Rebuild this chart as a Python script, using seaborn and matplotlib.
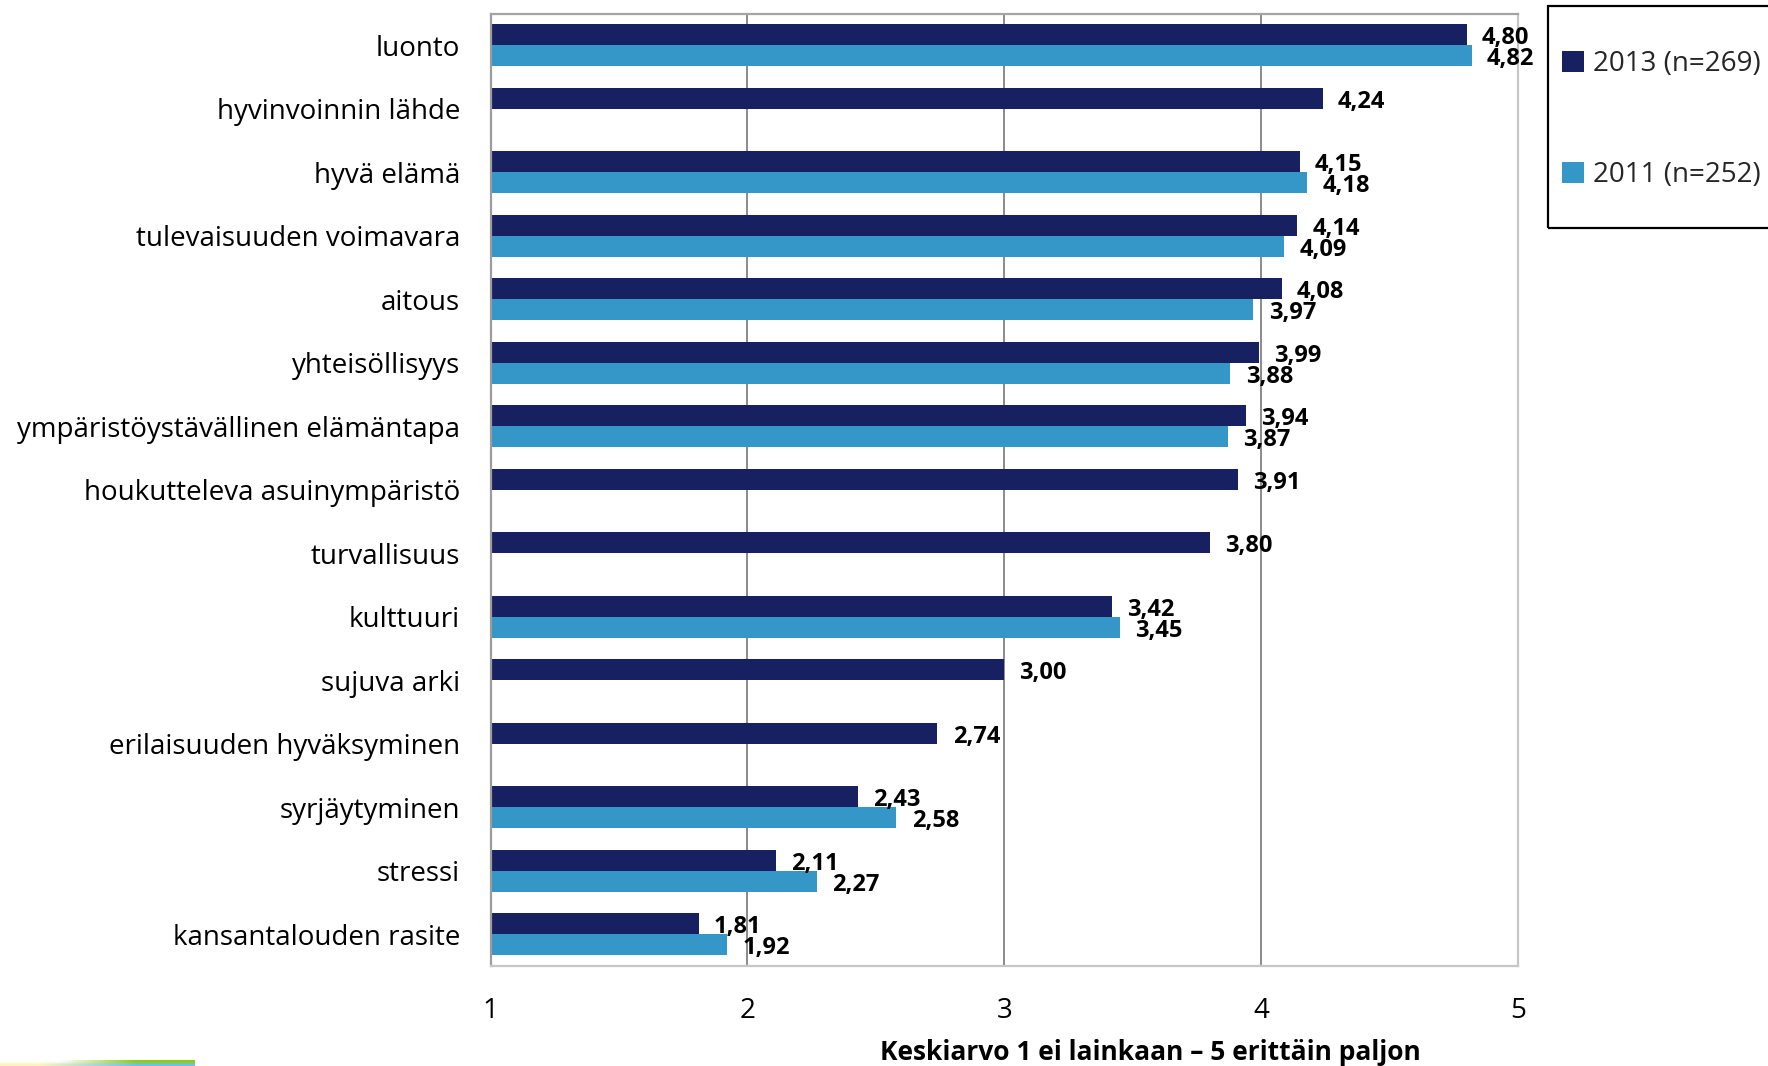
import numpy as np
import pandas as pd
import seaborn as sns
import matplotlib.pyplot as plt
from matplotlib.patches import Rectangle

# --- data -----------------------------------------------------------------
categories = [
    "luonto",
    "hyvinvoinnin lähde",
    "hyvä elämä",
    "tulevaisuuden voimavara",
    "aitous",
    "yhteisöllisyys",
    "ympäristöystävällinen elämäntapa",
    "houkutteleva asuinympäristö",
    "turvallisuus",
    "kulttuuri",
    "sujuva arki",
    "erilaisuuden hyväksyminen",
    "syrjäytyminen",
    "stressi",
    "kansantalouden rasite",
]
values_2013 = [4.80, 4.24, 4.15, 4.14, 4.08, 3.99, 3.94, 3.91, 3.80, 3.42, 3.00, 2.74, 2.43, 2.11, 1.81]
values_2011 = [4.82, np.nan, 4.18, 4.09, 3.97, 3.88, 3.87, np.nan, np.nan, 3.45, np.nan, np.nan, 2.58, 2.27, 1.92]
series_labels = ["2013 (n=269)", "2011 (n=252)"]
x_ticks = [1, 2, 3, 4, 5]
x_title = "Keskiarvo 1 ei lainkaan – 5 erittäin paljon"

# --- styling ----------------------------------------------------------------
sns.set_theme(style="white")
plt.rcParams["font.family"] = ["Open Sans", "DejaVu Sans"]
colors = {series_labels[0]: "#172162", series_labels[1]: "#3596c8"}

df = pd.DataFrame({
    "kategoria": categories * 2,
    "keskiarvo": values_2013 + values_2011,
    "vuosi": [series_labels[0]] * len(categories) + [series_labels[1]] * len(categories),
})

W, H = 1768, 1066
fig = plt.figure(figsize=(W / 100, H / 100), dpi=100)
ax = fig.add_axes([490.5 / W, 1 - 966 / H, (1518 - 490.5) / W, (966 - 13.5) / H])

sns.barplot(
    data=df, y="kategoria", x="keskiarvo", hue="vuosi",
    order=categories, hue_order=series_labels, palette=colors,
    orient="h", width=0.655, dodge=True, errorbar=None,
    saturation=1, legend=False, ax=ax,
)

for bar in ax.patches:
    bar.set_edgecolor("none")

# value labels with decimal commas
for cont in ax.containers:
    labels = [f"{v:.2f}".replace(".", ",") for v in cont.datavalues]
    anns = ax.bar_label(cont, labels=labels, padding=11, fontsize=17,
                        fontweight="bold", color="black")
    for a in anns:
        a.xyann = (11, -2.5)

ax.set_xlim(x_ticks[0], x_ticks[-1])
ax.set_xticks(x_ticks)
ax.set_xticklabels([str(t) for t in x_ticks])
ax.set_xlabel("")
ax.set_ylabel("")
ax.tick_params(axis="x", length=0, pad=22, labelsize=20, colors="black")
ax.tick_params(axis="y", length=0, pad=22, labelsize=20, colors="black")

ax.xaxis.grid(True, color="#8a8a8a", linewidth=1.4)
ax.yaxis.grid(False)
ax.set_axisbelow(True)

for side, col in [("left", "#9c9c9c"), ("top", "#a4a4a4"), ("right", "#c6c6c6"), ("bottom", "#c6c6c6")]:
    ax.spines[side].set_visible(True)
    ax.spines[side].set_color(col)
    ax.spines[side].set_linewidth(1.6)

# axis title
fig.text(1150 / W, 1 - 1052 / H, x_title, ha="center", va="center",
         fontsize=19, fontweight="bold", color="black")

# legend box on the right
fig.add_artist(Rectangle((1548 / W, 1 - 228 / H), 300 / W, 222 / H,
                         transform=fig.transFigure, fill=False,
                         edgecolor="black", linewidth=1.6))
handles = [Rectangle((0, 0), 1, 1, facecolor=colors[s], edgecolor="none") for s in series_labels]
fig.legend(handles, series_labels, loc="upper left",
           bbox_to_anchor=(1562 / W, 1 - 50 / H), frameon=False,
           fontsize=20, handlelength=0.8, handleheight=0.8,
           handletextpad=0.3, labelspacing=3.0, borderpad=0, borderaxespad=0)

# small gradient strip in the lower-left corner
strip = fig.add_axes([0, 0, 195 / W, 6 / H])
xs = np.linspace(0, 1, 200)
white = np.array([1, 1, 1])
green = np.array([0.58, 0.80, 0.05])
yellow = np.array([1.0, 0.96, 0.72])
blue = np.array([0.42, 0.77, 0.91])
top = np.array([white + (green - white) * min(max((x - 0.3) / 0.4, 0), 1) for x in xs])
bottom = np.array([yellow + (blue - yellow) * min(max((x - 0.2) / 0.5, 0), 1) for x in xs])
strip.imshow(np.stack([top, bottom]), aspect="auto", interpolation="bilinear")
strip.axis("off")

fig.savefig("out.png", dpi=100)
